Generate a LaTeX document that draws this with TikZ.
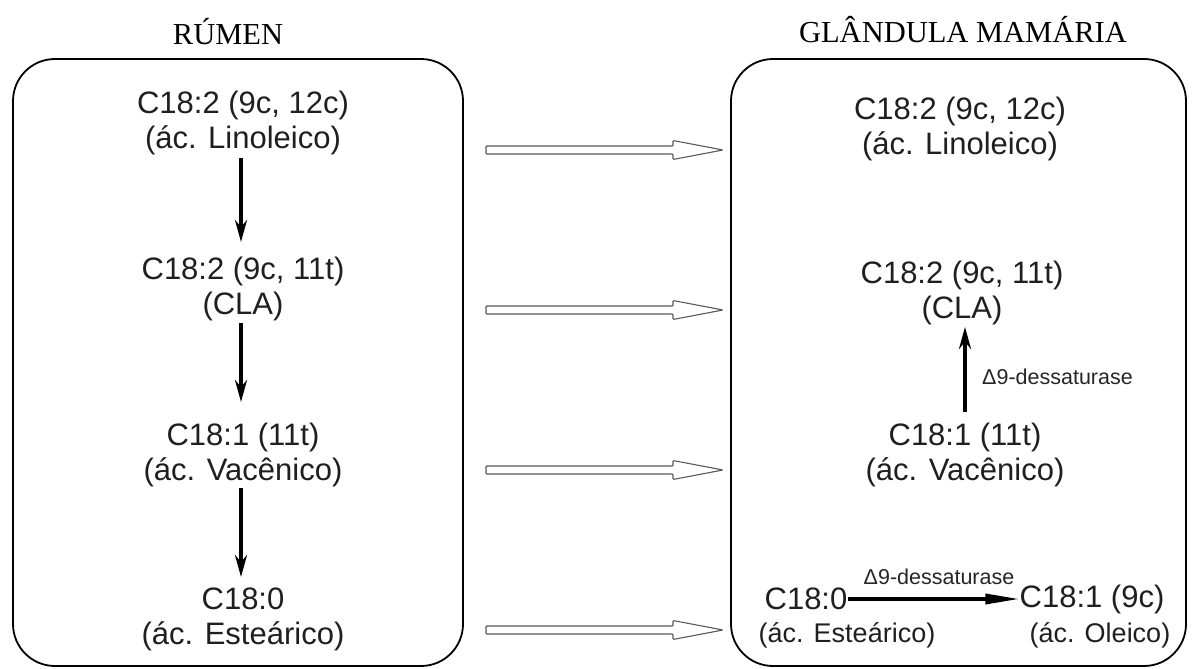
\documentclass[tikz,border=0pt]{standalone}
\usepackage{fontspec}
\setmainfont{Liberation Sans}
\newfontfamily\titlefont{Liberation Serif}
\usetikzlibrary{arrows.meta}
\tikzset{
  panel/.style={draw=black, line width=1.8pt, rounded corners=42pt},
  title/.style={font=\titlefont\fontsize{30.5}{34}\selectfont, inner sep=0pt},
  acid/.style={font=\fontsize{31}{35}\selectfont, align=center, inner sep=0pt, text=black!88},
  acidsm/.style={font=\fontsize{27}{31}\selectfont, inner sep=0pt, text=black!88},
  acidmd/.style={font=\fontsize{31}{35}\selectfont, inner sep=0pt, text=black!88},
  enzyme/.style={font=\fontsize{21.5}{24}\selectfont, inner sep=0pt, text=black!85},
  conv/.style={line width=3.6pt, -{Stealth[length=22pt, width=12pt]}},
  hollow/.style={draw=black!65, line width=1.1pt, fill=white, rounded corners=1pt}
}
\begin{document}
\begin{tikzpicture}[x=1pt, y=-1pt]
\useasboundingbox (0,0) rectangle (1195,669);

% compartments
\draw[panel] (13,59) rectangle (463,666);
\draw[panel] (731,59) rectangle (1186,666);
\node[title] (tr) at (228,32) {RÚMEN};
\node[title] (tg) at (963,30) {GLÂNDULA MAMÁRIA};

% rumen biohydrogenation chain
\node[acid] (l1) at (243,123) {C18:2 (9c, 12c)\\(ác. Linoleico)};
\node[acid] (l2) at (243,289) {C18:2 (9c, 11t)\\(CLA)};
\node[acid] (l3) at (243,455) {C18:1 (11t)\\(ác. Vacênico)};
\node[acid] (l4) at (243,619) {C18:0\\(ác. Esteárico)};
\draw[conv] (241,158) -- (241,242);
\draw[conv] (241,323) -- (241,402);
\draw[conv] (241,488) -- (241,577);

% mammary gland
\node[acid] (r1) at (960,129) {C18:2 (9c, 12c)\\(ác. Linoleico)};
\node[acid] (r2) at (962,293) {C18:2 (9c, 11t)\\(CLA)};
\node[acid] (r3) at (965,455) {C18:1 (11t)\\(ác. Vacênico)};
\draw[conv] (965,412) -- (965,327);
\node[enzyme, anchor=west] (e1) at (982,377) {Δ9-dessaturase};

\node[acidmd] (s0) at (806,599) {C18:0};
\node[acidsm] (s0n) at (847,635) {(ác. Esteárico)};
\node[acidmd] (s1) at (1092,599) {C18:1 (9c)};
\node[acidsm] (s1n) at (1100,635) {(ác. Oleico)};
\draw[line width=3.4pt, -{Stealth[length=34pt, width=10pt, inset=0pt]}] (s0.east) -- (s1.west);
\node[enzyme] (e2) at (939,577) {Δ9-dessaturase};

% transfer from rumen to mammary gland
\foreach \yy [count=\i] in {150,310,470,630}{
  \coordinate (a\i) at (486,\yy);
  \draw[hollow] (a\i) ++(0,-4) -- ++(187,0) -- ++(0,-5.5) -- ++(50,9.5) -- ++(-50,9.5)
     -- ++(0,-5.5) -- ++(-187,0) -- cycle;
}
\end{tikzpicture}
\end{document}
